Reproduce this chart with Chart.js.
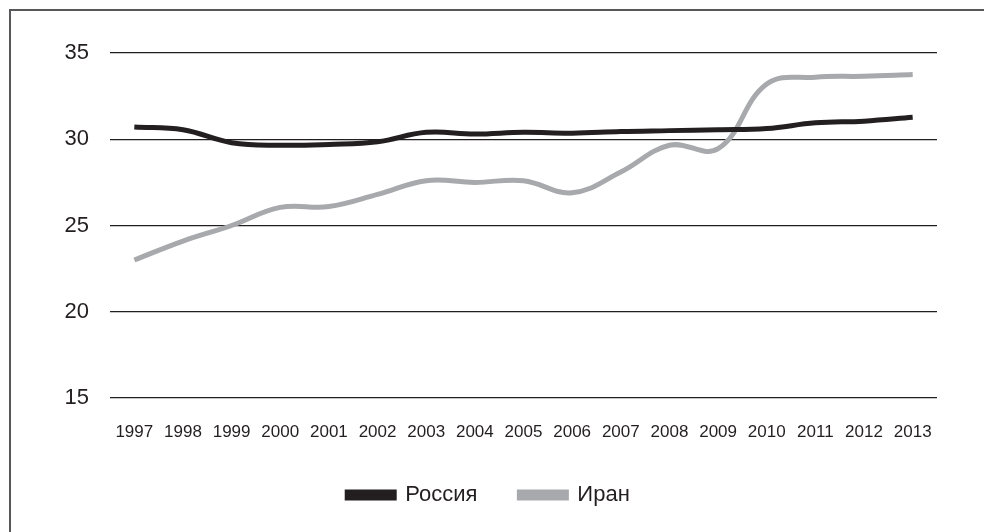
<!DOCTYPE html>
<html>
<head>
<meta charset="utf-8">
<script src="https://cdn.jsdelivr.net/npm/chart.js@4"></script>
<style>
html,body{margin:0;padding:0;background:#fff;}
#wrap{width:984px;height:532px;position:relative;}
</style>
</head>
<body>
<div id="wrap"><canvas id="c" width="984" height="532"></canvas></div>
<script>
const years = ['1997','1998','1999','2000','2001','2002','2003','2004','2005','2006','2007','2008','2009','2010','2011','2012','2013'];
const russia = [30.71,30.55,29.8,29.65,29.7,29.85,30.4,30.3,30.4,30.35,30.45,30.5,30.55,30.62,30.95,31.05,31.27];
const iran = [23.0,24.1,25.0,26.05,26.1,26.8,27.6,27.5,27.6,26.9,28.1,29.65,29.45,33.2,33.6,33.65,33.75];
const yTicks = [15,20,25,30,35];

const frame = {
  id:'frame',
  beforeDraw(chart){
    const ctx = chart.ctx;
    ctx.save();
    ctx.fillStyle='#fff';
    ctx.fillRect(0,0,chart.width,chart.height);
    ctx.strokeStyle='#58585a';
    ctx.lineWidth=2;
    ctx.beginPath();
    ctx.moveTo(10,chart.height);
    ctx.lineTo(10,10);
    ctx.lineTo(chart.width,10);
    ctx.stroke();
    ctx.restore();
  },
  afterLayout(chart){
    if (chart.legend) { chart.legend.left += 40; }
  }
};

const FONT = 'Liberation Sans, Arial, sans-serif';

new Chart(document.getElementById('c'), {
  type:'line',
  data:{
    labels: years,
    datasets:[
      {label:'Россия', data:russia, borderColor:'#231f20', backgroundColor:'#231f20', borderWidth:5, pointRadius:0, tension:0.4, fill:false},
      {label:'Иран', data:iran, borderColor:'#a7a9ac', backgroundColor:'#a7a9ac', borderWidth:5, pointRadius:0, tension:0.4, fill:false}
    ]
  },
  options:{
    responsive:false,
    animation:false,
    layout:{padding:{top:53,right:47,left:0,bottom:16}},
    plugins:{
      tooltip:{enabled:false},
      legend:{
        position:'bottom',
        labels:{
          boxWidth:47, boxHeight:6, padding:42,
          color:'#231f20',
          font:{family:FONT, size:22}
        }
      }
    },
    scales:{
      x:{
        offset:true,
        grid:{display:false, drawTicks:false},
        border:{display:false},
        ticks:{color:'#231f20', padding:24, maxRotation:0, autoSkip:false, font:{family:FONT, size:17}},
        afterFit(s){ s.height = 44; }
      },
      y:{
        min:15, max:35,
        afterBuildTicks(s){ s.ticks = yTicks.map(v=>({value:v})); },
        grid:{color:'#231f20', lineWidth:1.2, drawTicks:false},
        border:{display:false},
        ticks:{color:'#231f20', padding:21, font:{family:FONT, size:22}},
        afterFit(s){ s.width = 110; }
      }
    }
  },
  plugins:[frame]
});
</script>
</body>
</html>
